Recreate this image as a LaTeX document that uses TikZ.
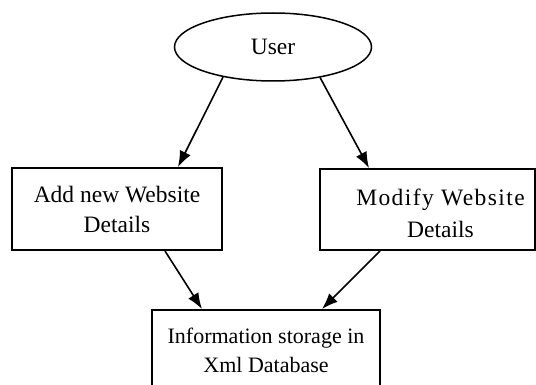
\documentclass[tikz,border=0pt]{standalone}
\usepackage{fontspec}
\setmainfont{Liberation Serif}
\newfontfamily\widefont[LetterSpace=6]{Liberation Serif}
\usetikzlibrary{arrows.meta,shapes.geometric}

\tikzset{
  usernode/.style={draw, line width=1.5pt, ellipse, minimum width=197pt, minimum height=68pt, inner sep=0pt},
  taskbox/.style={draw, line width=2pt, rectangle, align=center, inner sep=0pt},
  flow/.style={-{Latex[length=16pt,width=12pt]}, line width=1.6pt},
}

\begin{document}
\begin{tikzpicture}[x=1pt,y=-1pt, font=\fontsize{23.5}{30}\selectfont]
        \useasboundingbox (0,0) rectangle (536,385);
        \clip (0,0) rectangle (536,385);

        % Actor
        \node[usernode] (user) at (273,47) {User};

        % Tasks
        \node[taskbox, minimum width=210pt, minimum height=82pt] (add) at (117,209)
            {Add new Website\\Details};
        \node[taskbox, minimum width=215pt, minimum height=81pt] (modify) at (427.5,209.5) {};
        \node[align=center] (modifytext) at ([xshift=13pt,yshift=-4pt]modify.center)
            {{\widefont Modify Website}\\[2pt]Details};

        % Storage
        \node[taskbox, minimum width=228pt, minimum height=80pt,
              font=\fontsize{22}{29}\selectfont] (store) at (266,350)
            {Information storage in\\Xml Database};

        % Arrows
        \draw[flow] (user.211) -- ([xshift=61pt]add.north);
        \draw[flow] (user.327) -- ([xshift=-58.5pt]modify.north);
        \draw[flow] ([xshift=48pt]add.south) -- ([xshift=-64pt]store.north);
        \draw[flow] ([xshift=-47.5pt]modify.south) -- ([xshift=56pt]store.north);
    \end{tikzpicture}
\end{document}
